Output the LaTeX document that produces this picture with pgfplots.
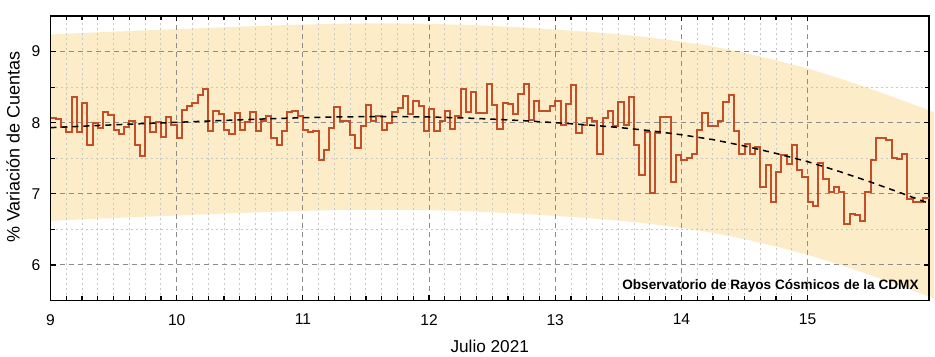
\documentclass[border=0pt]{standalone}
\usepackage{pgfplots}
\pgfplotsset{compat=1.18}
\usepackage{pgfplotstable}
\usepackage{fontspec}
\setmainfont{Liberation Sans}
\definecolor{bandc}{RGB}{253,236,200}
\definecolor{stepc}{RGB}{196,78,40}
\definecolor{gmaj}{RGB}{140,140,140}
\definecolor{gmin}{RGB}{200,200,200}

\pgfplotstableread{
h v
0 8.06
1 8.05
2 7.94
3 7.87
4 8.36
5 7.87
6 8.28
7 7.69
8 7.99
9 7.93
10 8.15
11 8.11
12 7.90
13 7.84
14 7.94
15 8.02
16 7.69
17 7.53
18 8.08
19 7.87
20 8.01
21 7.80
22 8.08
23 7.97
24 7.79
25 8.18
26 8.24
27 8.27
28 8.39
29 8.47
30 7.88
31 8.17
32 8.12
33 7.90
34 7.84
35 8.13
36 7.90
37 8.01
38 8.15
39 7.88
40 8.03
41 8.09
42 7.79
43 7.69
44 7.88
45 8.15
46 8.16
47 8.09
48 7.90
49 7.87
50 7.89
51 7.48
52 7.61
53 7.93
54 8.22
55 8.03
56 8.02
57 7.82
58 7.64
59 7.96
60 8.25
61 8.02
62 8.09
63 7.90
64 7.99
65 8.15
66 8.21
67 8.38
68 8.12
69 8.31
70 8.24
71 7.88
72 8.19
73 7.88
74 8.02
75 8.17
76 7.91
77 8.09
78 8.47
79 8.15
80 8.43
81 8.14
82 8.14
83 8.55
84 8.25
85 7.91
86 8.28
87 8.26
88 8.12
89 8.41
90 8.54
91 8.04
92 8.31
93 8.16
94 8.16
95 8.24
96 8.30
97 7.97
98 8.26
99 8.53
100 7.85
101 7.97
102 8.06
103 8.02
104 7.56
105 8.06
106 8.17
107 7.96
108 8.29
109 7.97
110 8.36
111 7.68
112 7.27
113 7.87
114 7.01
115 7.85
116 8.08
117 8.08
118 7.16
119 7.55
120 7.48
121 7.50
122 7.56
123 7.90
124 8.14
125 7.95
126 7.96
127 8.03
128 8.29
129 8.39
130 7.88
131 7.56
132 7.70
133 7.56
134 7.66
135 7.09
136 7.41
137 6.88
138 7.30
139 7.55
140 7.42
141 7.68
142 7.33
143 7.23
144 6.89
145 6.83
146 7.43
147 7.21
148 7.03
149 7.10
150 7.02
151 6.58
152 6.71
153 6.70
154 6.62
155 7.03
156 7.47
157 7.79
158 7.79
159 7.75
160 7.50
161 7.49
162 7.56
163 6.92
164 6.89
165 6.89
166 6.94
167 6.94
168 6.94
}\steps

\pgfplotstableread{
x f
9.00 7.930
9.25 7.950
9.50 7.970
9.75 7.988
10.00 8.005
10.25 8.023
10.50 8.040
10.75 8.056
11.00 8.070
11.25 8.080
11.50 8.085
11.75 8.085
12.00 8.080
12.25 8.068
12.50 8.050
12.75 8.028
13.00 8.000
13.25 7.970
13.50 7.933
13.75 7.888
14.00 7.830
14.25 7.762
14.50 7.672
14.75 7.568
15.00 7.452
15.25 7.315
15.50 7.165
15.75 7.005
16.00 6.840
}\fit

\begin{document}
\begin{tikzpicture}
\begin{axis}[
  set layers,
  scale only axis,
  width=439.25pt, height=142.25pt,
  xmin=9, xmax=15.962, ymin=5.5, ymax=9.5,
  xtick={9,10,11,12,13,14,15},
  ytick={6,7,8,9},
  minor x tick num=7,
  minor y tick num=1,
  tick align=inside,
  tick pos=both,
  major tick length=2.75pt,
  minor tick length=2.25pt,
  every tick/.style={black, line width=0.6pt},
  axis line style={black, line width=0.75pt},
  grid=both,
  major grid style={color=gmaj, line width=0.5pt, dash pattern=on 2.5pt off 2pt},
  minor grid style={color=gmin, line width=0.5pt, dash pattern=on 1pt off 1.5pt},
  /pgf/number format/assume math mode=true,
  tick label style={font=\fontsize{7.8}{9}\selectfont},
  xticklabel style={yshift=-3.3pt},
  yticklabel style={xshift=-1.6pt},
  xlabel={Julio 2021},
  ylabel={\% Variación de Cuentas},
  xlabel style={font=\fontsize{8.6}{10}\selectfont, at={(axis description cs:0.5,-0.16)}, anchor=center},
  ylabel style={font=\fontsize{9}{11}\selectfont, at={(axis description cs:-0.0427,0.54)}, anchor=center, rotate=0},
]
\addplot[on layer=axis background, draw=none, fill=bandc] coordinates {
(9.00,9.240) (9.25,9.260) (9.50,9.280) (9.75,9.298) (10.00,9.315) (10.25,9.333) (10.50,9.350) (10.75,9.366)
(11.00,9.380) (11.25,9.390) (11.50,9.395) (11.75,9.395) (12.00,9.390) (12.25,9.378) (12.50,9.360) (12.75,9.338)
(13.00,9.310) (13.25,9.280) (13.50,9.243) (13.75,9.198) (14.00,9.140) (14.25,9.072) (14.50,8.982) (14.75,8.878)
(15.00,8.762) (15.25,8.625) (15.50,8.475) (15.75,8.315) (16.00,8.150)
(16.00,5.530) (15.75,5.695) (15.50,5.855) (15.25,6.005) (15.00,6.142) (14.75,6.258) (14.50,6.362) (14.25,6.452)
(14.00,6.520) (13.75,6.578) (13.50,6.623) (13.25,6.660) (13.00,6.690) (12.75,6.718) (12.50,6.740) (12.25,6.758)
(12.00,6.770) (11.75,6.775) (11.50,6.775) (11.25,6.770) (11.00,6.760) (10.75,6.746) (10.50,6.730) (10.25,6.713)
(10.00,6.695) (9.75,6.678) (9.50,6.660) (9.25,6.640) (9.00,6.620)
} -- cycle;
\addplot[const plot, color=stepc, line width=1pt] table[x expr=9+\thisrow{h}/24, y=v] {\steps};
\addplot[black, line width=0.75pt, dash pattern=on 3pt off 2.5pt] table[x=x, y=f] {\fit};
\node[anchor=base east, font=\bfseries\fontsize{6.8}{8}\selectfont, inner sep=0pt] at ([xshift=-5pt, yshift=5.6pt]axis description cs:1,0) {Observatorio de Rayos Cósmicos de la CDMX};
\coordinate (SW) at (axis description cs:0,0);
\end{axis}
\pgfresetboundingbox
\path (SW) ++(-25.25pt,-28.25pt) rectangle ++(467.5pt,178.5pt);
\end{tikzpicture}
\end{document}
